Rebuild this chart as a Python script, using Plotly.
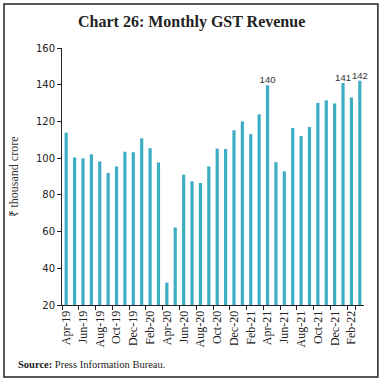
import plotly.graph_objects as go

months = ["Apr-19","May-19","Jun-19","Jul-19","Aug-19","Sep-19","Oct-19","Nov-19","Dec-19",
          "Jan-20","Feb-20","Mar-20","Apr-20","May-20","Jun-20","Jul-20","Aug-20","Sep-20",
          "Oct-20","Nov-20","Dec-20","Jan-21","Feb-21","Mar-21","Apr-21","May-21","Jun-21",
          "Jul-21","Aug-21","Sep-21","Oct-21","Nov-21","Dec-21","Jan-22","Feb-22","Mar-22"]
gst = [113.9, 100.3, 99.9, 102.1, 98.2, 91.9, 95.4, 103.5, 103.2,
       110.8, 105.4, 97.6, 32.2, 62.2, 91.0, 87.4, 86.4, 95.5,
       105.2, 105.0, 115.2, 120.0, 113.1, 123.9, 139.7, 97.8, 92.8,
       116.4, 112.0, 117.0, 130.1, 131.5, 129.8, 141.0, 133.0, 142.1]
labelled = {"Apr-21": "140", "Jan-22": "141", "Mar-22": "142"}
bar_text = [labelled.get(m, "") for m in months]
tick_labels = months[::2]

fig = go.Figure(go.Bar(
    x=months, y=gst, text=bar_text, textposition="outside", constraintext="none",
    textfont=dict(family="Liberation Sans", size=9.5, color="#333333"),
    marker=dict(color="#3DADC3", line=dict(width=0)),
    cliponaxis=False, hoverinfo="skip",
))

fig.update_layout(
    width=384, height=385,
    margin=dict(l=62, r=20, t=48, b=80, autoexpand=False),
    paper_bgcolor="white", plot_bgcolor="white",
    bargap=0.62, showlegend=False,
    xaxis=dict(type="category", tickmode="array", tickvals=tick_labels, ticktext=tick_labels,
               tickangle=-90, ticks="outside", ticklen=4, tickson="boundaries", automargin=False,
               showline=True, linecolor="#222222", linewidth=1, tickcolor="#222222",
               showgrid=False, tickfont=dict(family="Liberation Serif", size=12, color="#222222")),
    yaxis=dict(range=[20, 160], dtick=20, ticks="outside", ticklen=4, automargin=False,
               showline=True, linecolor="#222222", linewidth=1, tickcolor="#222222",
               showgrid=False, zeroline=False,
               tickfont=dict(family="DejaVu Sans", size=10, color="#222222")),
    shapes=[dict(type="rect", xref="paper", yref="paper",
                 x0=-0.192, x1=1.046, y0=-0.280, y1=1.171,
                 line=dict(color="#222222", width=1.5))],
    annotations=[
        dict(text="<b>Chart 26: Monthly GST Revenue</b>", xref="paper", yref="paper",
             x=(191-62)/302, y=1.101, showarrow=False, xanchor="center", yanchor="middle",
             font=dict(family="Liberation Serif", size=16, color="#222222")),
        dict(text="₹ thousand crore", xref="paper", yref="paper", x=-0.159, y=0.5,
             textangle=-90, showarrow=False, xanchor="center", yanchor="middle",
             font=dict(family="Liberation Serif", size=12, color="#333333")),
        dict(text="<b>Source:</b> Press Information Bureau.", xref="paper", yref="paper",
             x=-0.152, y=-0.230, showarrow=False, xanchor="left", yanchor="middle",
             font=dict(family="Liberation Serif", size=10.5, color="#222222")),
    ],
)

fig.write_html("out.html", config={"displayModeBar": False},
               post_script="document.body.style.margin='0';document.body.style.overflow='hidden';")
